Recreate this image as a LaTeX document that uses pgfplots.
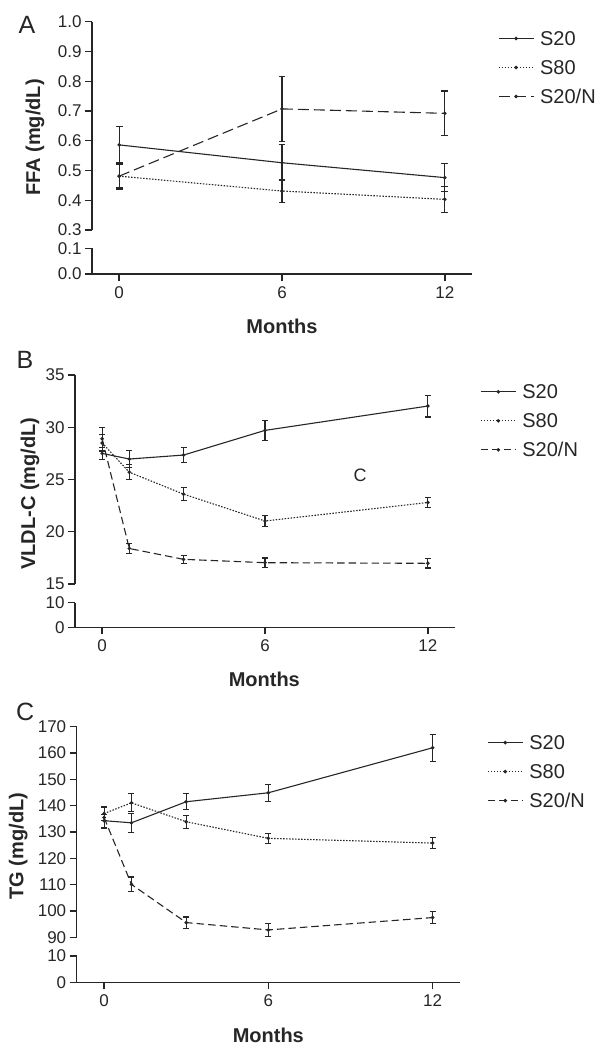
\documentclass[border=0pt]{standalone}
\usepackage{pgfplots}
\pgfplotsset{compat=1.18}
\usepackage{fontspec}
\setmainfont{Liberation Sans}
\pgfplotsset{
  brk/.style={scale only axis, xmin=-1, xmax=13, tick align=outside,
    major tick length=7pt,
    axis line style={line width=1.3pt, black!85},
    every tick/.style={line width=1.3pt, black!85},
    tick label style={font=\fontsize{17}{20}\selectfont, text=black!85},
    xticklabel style={yshift=-2pt},
    /pgf/number format/assume math mode=true, clip=false},
  up/.style={brk, axis x line=none, axis y line*=left, xtick=\empty,
    legend cell align=left,
    legend style={draw=none, fill=none, font=\fontsize{20}{24}\selectfont, text=black!85,
      inner sep=0pt, row sep=15pt, column sep=6pt,
      nodes={inner sep=0pt, text height=14pt, text depth=0pt, anchor=west}},
    legend image code/.code={\draw[mark repeat=2, mark phase=2, ##1] plot coordinates {(0pt,0pt) (17.5pt,0pt) (35pt,0pt)};}},
  low/.style={brk, axis x line*=bottom, axis y line*=left, xtick={0,6,12}},
  ser/.style={black!85, line width=1.1pt, mark=*, mark size=1.2pt, mark options={solid},
    error bars/y dir=both, error bars/y explicit,
    error bars/error bar style={line width=1.1pt, solid},
    error bars/error mark options={rotate=90, mark size=3pt, line width=1.1pt, solid}},
  big/.style={error bars/error mark options={rotate=90, mark size=3.4pt, line width=1.1pt, solid}},
  sA/.style={ser, solid},
  sB/.style={ser, dash pattern=on 1.5pt off 1.5pt},
  sCa/.style={ser, dash pattern=on 11pt off 5pt},
  sC/.style={ser, dash pattern=on 7.5pt off 4pt},
}
\begin{document}
\begin{tikzpicture}
\path[use as bounding box] (0,0) rectangle (602pt,-1050pt);
% ---------------- Panel A ----------------
\begin{axis}[up, at={(92pt,-230pt)}, anchor=south west, width=380pt, height=208.3pt,
  ymin=0.3, ymax=1.0, ytick={0.3,0.4,0.5,0.6,0.7,0.8,0.9,1.0},
  yticklabel style={/pgf/number format/.cd, fixed, fixed zerofill, precision=1},
  legend style={at={(1.068,0.954)}, anchor=north west}]
\addplot+[sA, big] coordinates {(0,0.586) +- (0,0.062) (6,0.526) +- (0,0.060) (12,0.476) +- (0,0.047)};
\addlegendentry{S20}
\addplot+[sB, big] coordinates {(0,0.481) +- (0,0.040) (6,0.431) +- (0,0.040) (12,0.403) +- (0,0.044)};
\addlegendentry{S80}
\addplot+[sCa, big] coordinates {(0,0.481) +- (0,0.045) (6,0.707) +- (0,0.110) (12,0.692) +- (0,0.075)};
\addlegendentry{S20/N}
\end{axis}
\begin{axis}[low, at={(92pt,-274pt)}, anchor=south west, width=380pt, height=25.7pt,
  ymin=0, ymax=0.1, ytick={0,0.1},
  yticklabel style={/pgf/number format/.cd, fixed, fixed zerofill, precision=1}]
\end{axis}
\node[anchor=base west, font=\fontsize{25}{28}\selectfont, text=black!85] at (15pt,-33pt) {A};
\node[rotate=90, font=\fontsize{20}{24}\selectfont\bfseries, text=black!85] at (35pt,-137.5pt) {FFA (mg/dL)};
\node[anchor=base, font=\fontsize{20}{24}\selectfont\bfseries, text=black!85] at (282pt,-333pt) {Months};
% ---------------- Panel B ----------------
\begin{axis}[up, at={(75pt,-584pt)}, anchor=south west, width=380pt, height=209pt,
  ymin=15, ymax=35, ytick={15,20,25,30,35},
  legend style={at={(1.066,0.954)}, anchor=north west}]
\addplot+[sA] coordinates {(0,27.5) +- (0,0.6) (1,26.96) +- (0,0.8) (3,27.34) +- (0,0.7) (6,29.7) +- (0,0.95) (12,32.03) +- (0,1.05)};
\addlegendentry{S20}
\addplot+[sB] coordinates {(0,28.5) +- (0,0.85) (1,25.7) +- (0,0.7) (3,23.6) +- (0,0.6) (6,21.03) +- (0,0.5) (12,22.8) +- (0,0.5)};
\addlegendentry{S80}
\addplot+[sC] coordinates {(0,28.9) +- (0,1.1) (1,18.4) +- (0,0.5) (3,17.36) +- (0,0.4) (6,17.04) +- (0,0.45) (12,16.98) +- (0,0.45)};
\addlegendentry{S20/N}
\node[font=\fontsize{18}{22}\selectfont, text=black!85] at (axis cs:9.5,25.4) {C};
\end{axis}
\begin{axis}[low, at={(75pt,-627.3pt)}, anchor=south west, width=380pt, height=24.6pt,
  ymin=0, ymax=10, ytick={0,10}]
\end{axis}
\node[anchor=base west, font=\fontsize{25}{28}\selectfont, text=black!85] at (13pt,-368.3pt) {B};
\node[rotate=90, font=\fontsize{20}{24}\selectfont\bfseries, text=black!85] at (30pt,-493.5pt) {VLDL-C (mg/dL)};
\node[anchor=base, font=\fontsize{20}{24}\selectfont\bfseries, text=black!85] at (264.3pt,-686.8pt) {Months};
% ---------------- Panel C ----------------
\begin{axis}[up, at={(76.7pt,-937.3pt)}, anchor=south west, width=383.3pt, height=210.6pt,
  ymin=90, ymax=170, ytick={90,100,110,120,130,140,150,160,170},
  legend style={at={(1.0705,0.959)}, anchor=north west}]
\addplot+[sA] coordinates {(0,134.3) +- (0,2.5) (1,133.5) +- (0,3.7) (3,141.5) +- (0,3.0) (6,144.9) +- (0,3.3) (12,162.0) +- (0,5.1)};
\addlegendentry{S20}
\addplot+[sB] coordinates {(0,137.0) +- (0,2.7) (1,141.1) +- (0,3.4) (3,133.9) +- (0,2.5) (6,127.6) +- (0,1.8) (12,125.8) +- (0,2.1)};
\addlegendentry{S80}
\addplot+[sC] coordinates {(0,135.5) +- (0,4.0) (1,110.1) +- (0,2.8) (3,95.6) +- (0,2.1) (6,92.8) +- (0,2.4) (12,97.5) +- (0,2.2)};
\addlegendentry{S20/N}
\end{axis}
\begin{axis}[low, at={(76.7pt,-982.3pt)}, anchor=south west, width=383.3pt, height=26.3pt,
  ymin=0, ymax=10, ytick={0,10}]
\end{axis}
\node[anchor=base west, font=\fontsize{25}{28}\selectfont, text=black!85] at (12.7pt,-720pt) {C};
\node[rotate=90, font=\fontsize{20}{24}\selectfont\bfseries, text=black!85] at (18.3pt,-846pt) {TG (mg/dL)};
\node[anchor=base, font=\fontsize{20}{24}\selectfont\bfseries, text=black!85] at (268.3pt,-1042pt) {Months};
\end{tikzpicture}
\end{document}
